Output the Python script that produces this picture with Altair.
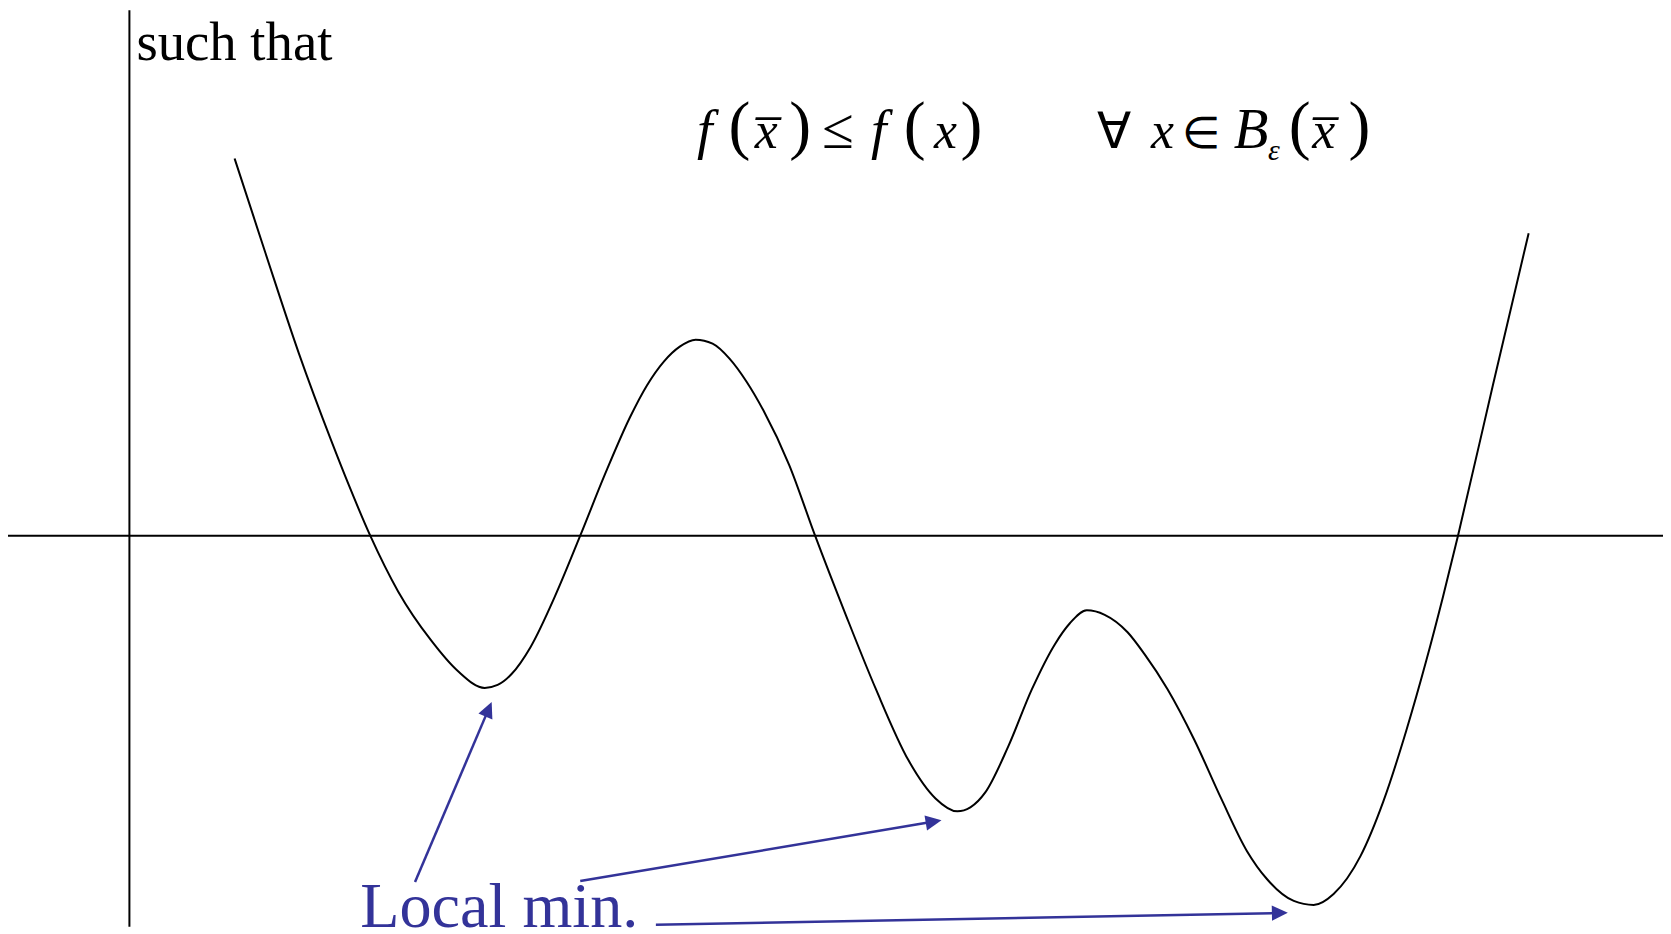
import altair as alt
import pandas as pd
import numpy as np

# ---- curve f(x) (origin at the crossing of the two axes) ----
curve_x = [1.057, 1.367, 1.70, 2.03, 2.20, 2.42, 2.70, 3.03, 3.30, 3.57, 3.70, 3.84,
           4.03, 4.28, 4.53, 4.78, 5.03, 5.20, 5.37, 5.53, 5.69, 5.86, 6.03, 6.20,
           6.37, 6.63, 6.89, 7.20, 7.50, 7.83, 8.10, 8.32, 8.45, 8.60, 8.83, 9.07, 9.30,
           9.45, 9.62, 9.80, 10.03, 10.20, 10.43, 10.70, 10.97, 11.23, 11.43, 11.70,
           11.90, 12.10, 12.37, 12.60, 12.83, 13.03, 13.20, 13.35, 13.70, 14.06]
curve_y = [3.79, 2.84, 1.84, 0.95, 0.52, 0.00, -0.56, -1.05, -1.36, -1.53, -1.50, -1.39,
           -1.12, -0.60, 0.00, 0.62, 1.19, 1.51, 1.75, 1.90, 1.97, 1.93, 1.78, 1.55,
           1.26, 0.71, 0.00, -0.80, -1.54, -2.26, -2.64, -2.77, -2.73, -2.58, -2.12, -1.54, -1.09,
           -0.88, -0.75, -0.795, -0.97, -1.19, -1.54, -2.05, -2.64, -3.17, -3.45, -3.67,
           -3.71, -3.60, -3.22, -2.67, -1.96, -1.26, -0.61, 0.00, 1.51, 3.04]

# ---- arrows from the label to the three local minima ----
arrow_start_x = [2.87, 4.53, 5.29]
arrow_start_y = [-3.48, -3.47, -3.91]
arrow_tip_x = [3.64, 8.16, 11.64]
arrow_tip_y = [-1.67, -2.86, -3.79]

# ---- text pieces ----
label_text = "Local min."
header_text = "such that"
formula_italic = ["f", "x\u0305", "f", "x", "x", "B", "x\u0305"]
formula_italic_x = [5.78, 6.40, 7.53, 8.20, 10.38, 11.27, 12.00]
formula_italic_fs = [56, 52, 56, 52, 52, 57, 52]
formula_upright = ["≤", "∀", "∈"]
formula_upright_x = [7.12, 9.89, 10.77]
formula_upright_fs = [58, 50, 44]
formula_paren = ["(", ")", "(", ")", "(", ")"]
formula_paren_x = [6.13, 6.74, 7.89, 8.46, 11.76, 12.36]

XD = [-1.22, 15.41]
YD = [-3.98, 5.28]
BLUE = "#333399"


def X(f, **kw):
    return alt.X(f, scale=alt.Scale(domain=XD, nice=False, zero=False), axis=None, **kw)


def Y(f, **kw):
    return alt.Y(f, scale=alt.Scale(domain=YD, nice=False, zero=False), axis=None, **kw)


# axes
haxis = alt.Chart(pd.DataFrame({"x": [XD[0]], "x2": [XD[1]], "y": [0.0]})).mark_rule(
    color="black", strokeWidth=2).encode(x=X("x:Q"), x2="x2:Q", y=Y("y:Q"))
vaxis = alt.Chart(pd.DataFrame({"x": [0.0], "y": [YD[1]], "y2": [-3.93]})).mark_rule(
    color="black", strokeWidth=2).encode(x=X("x:Q"), y=Y("y:Q"), y2="y2:Q")

curve = alt.Chart(pd.DataFrame({"x": curve_x, "y": curve_y})).mark_line(
    color="black", strokeWidth=2, interpolate="monotone").encode(
    x=X("x:Q"), y=Y("y:Q"), order="x:Q")

# arrows
sx, sy = np.array(arrow_start_x), np.array(arrow_start_y)
tx, ty = np.array(arrow_tip_x), np.array(arrow_tip_y)
dx, dy = tx - sx, ty - sy
L = np.hypot(dx, dy)
ex, ey = tx - dx / L * 0.12, ty - dy / L * 0.12
ang = np.mod(np.degrees(np.arctan2(dx, dy)), 360)
arr = pd.DataFrame({"sx": sx, "sy": sy, "ex": ex, "ey": ey, "tx": tx, "ty": ty, "ang": ang})

arrow_lines = alt.Chart(arr).mark_rule(color=BLUE, strokeWidth=2.5).encode(
    x=X("sx:Q"), y=Y("sy:Q"), x2="ex:Q", y2="ey:Q")
arrow_heads = alt.Chart(arr).mark_point(
    shape="M0,0L-0.95,2L0.95,2Z", filled=True, color=BLUE, opacity=1, strokeWidth=0,
    size=256).encode(x=X("tx:Q"), y=Y("ty:Q"), angle=alt.Angle("ang:Q", scale=None))

# texts
header = alt.Chart(pd.DataFrame({"t": [header_text], "x": [0.07], "y": [4.78]})).mark_text(
    font="Liberation Serif", fontSize=55, align="left", baseline="alphabetic", color="black"
).encode(x=X("x:Q"), y=Y("y:Q"), text="t:N")

label = alt.Chart(pd.DataFrame({"t": [label_text], "x": [2.32], "y": [-3.93]})).mark_text(
    font="Liberation Serif", fontSize=64.5, align="left", baseline="alphabetic", color=BLUE
).encode(x=X("x:Q"), y=Y("y:Q"), text="t:N")

it_df = pd.DataFrame({"t": formula_italic, "x": formula_italic_x,
                      "y": [3.90] * 7, "fs": formula_italic_fs})
eps_df = pd.DataFrame({"t": ["ε"], "x": [11.50], "y": [3.78], "fs": [30]})
up_df = pd.DataFrame({"t": formula_upright, "x": formula_upright_x,
                      "y": [3.90] * 3, "fs": formula_upright_fs})
par_df = pd.DataFrame({"t": formula_paren, "x": formula_paren_x,
                       "y": [3.91] * 6, "fs": [66] * 6})

italic_txt = alt.Chart(pd.concat([it_df, eps_df])).mark_text(
    font="Liberation Serif", fontStyle="italic", align="center", baseline="alphabetic",
    color="black").encode(x=X("x:Q"), y=Y("y:Q"), text="t:N",
                          size=alt.Size("fs:Q", scale=None))
upright_txt = alt.Chart(pd.concat([up_df, par_df])).mark_text(
    font="Liberation Serif", align="center", baseline="alphabetic",
    color="black").encode(x=X("x:Q"), y=Y("y:Q"), text="t:N",
                          size=alt.Size("fs:Q", scale=None))

chart = alt.layer(haxis, vaxis, curve, arrow_lines, arrow_heads,
                  header, label, italic_txt, upright_txt).properties(
    width=1663, height=926, padding=0, background="white",
    autosize=alt.AutoSizeParams(type="none"),
).configure_view(stroke=None)

chart.save("out.html", embed_options={"renderer": "svg", "actions": False})
